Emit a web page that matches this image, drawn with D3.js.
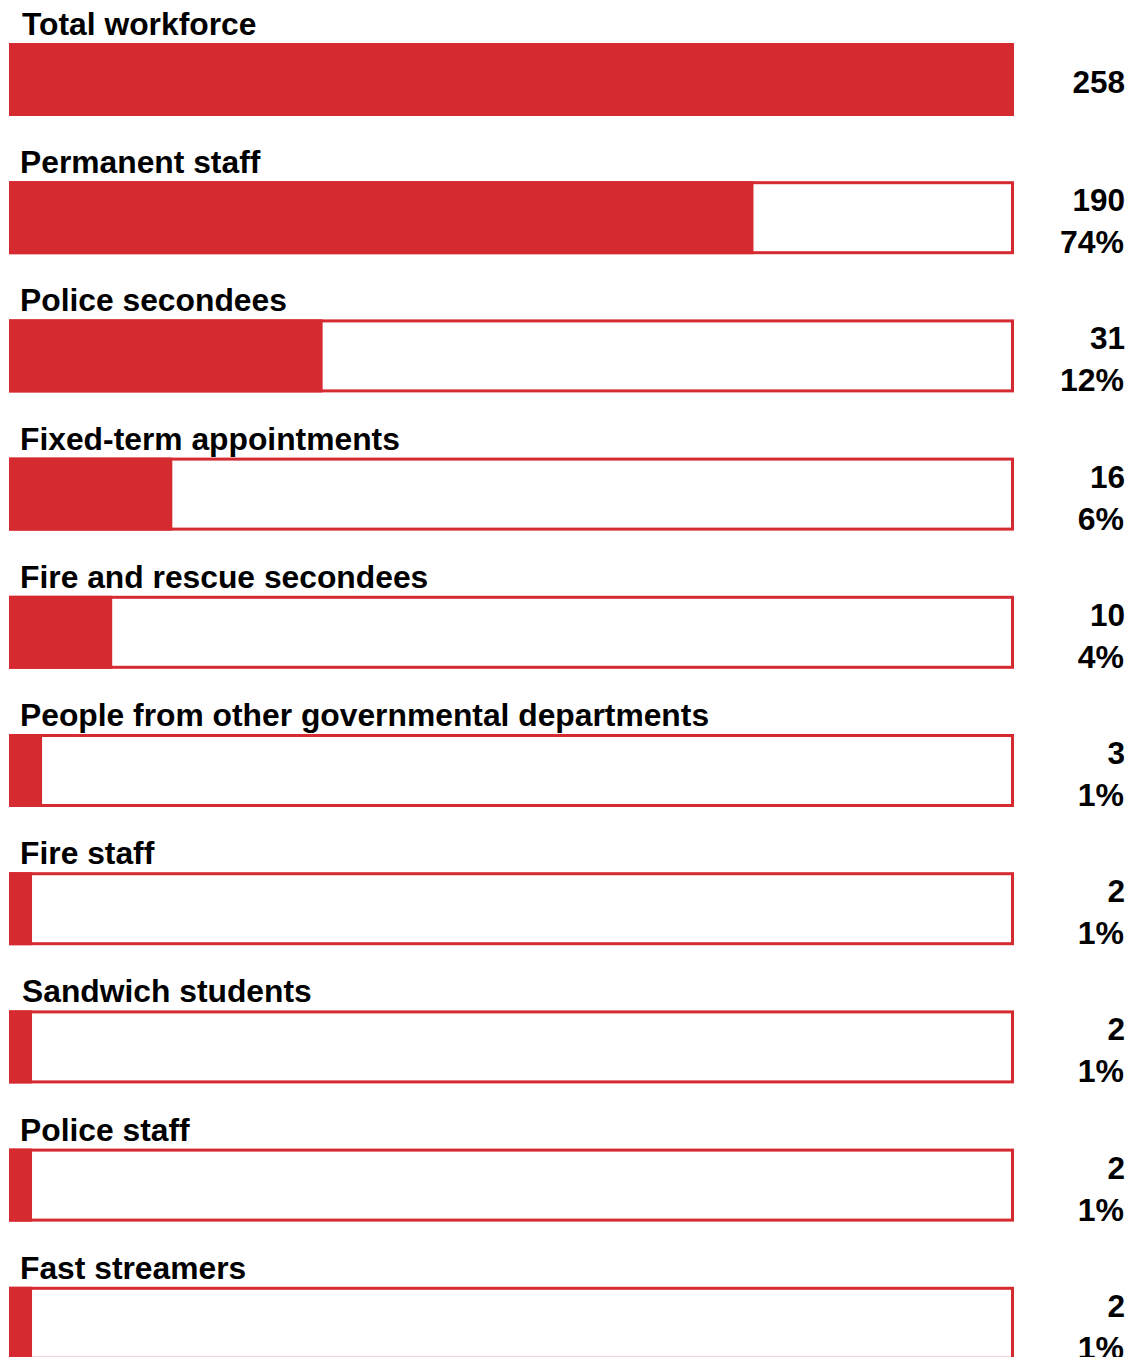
<!DOCTYPE html>
<html>
<head>
<meta charset="utf-8">
<script src="https://cdn.jsdelivr.net/npm/d3@7"></script>
<style>
  html, body { margin: 0; padding: 0; background: #fff; }
  svg { display: block; }
  text { font-family: "Liberation Sans", Arial, sans-serif; font-weight: bold; fill: #000; }
</style>
</head>
<body>
<svg id="chart" width="1136" height="1357"></svg>
<script>
const categories = [
  "Total workforce",
  "Permanent staff",
  "Police secondees",
  "Fixed-term appointments",
  "Fire and rescue secondees",
  "People from other governmental departments",
  "Fire staff",
  "Sandwich students",
  "Police staff",
  "Fast streamers"
];
const counts = [258, 190, 31, 16, 10, 3, 2, 2, 2, 2];
const percents = [null, 74, 12, 6, 4, 1, 1, 1, 1, 1];
// filled length of each bar as drawn in the picture (share of full bar, 0-100)
const barLengths = [100, 74, 31, 16, 10, 3, 2, 2, 2, 2];

const red = "#d62a31";
const svg = d3.select("#chart");

const x = d3.scaleLinear().domain([0, 100]).range([12, 1014]);
const y = d3.scaleBand()
  .domain(d3.range(categories.length))
  .range([43, 43 + 138.2 * categories.length])
  .paddingInner(0);

const barH = 73;
const data = categories.map((c, i) => ({ c, n: counts[i], p: percents[i], len: barLengths[i], i }));

const g = svg.selectAll("g.row").data(data).join("g")
  .attr("class", "row")
  .attr("transform", d => `translate(0,${y(d.i)})`);

// outline
g.append("rect")
  .attr("x", 10.5).attr("y", 1.5)
  .attr("width", x(100) - 12).attr("height", barH - 3)
  .attr("fill", "#fff")
  .attr("stroke", red).attr("stroke-width", 3);

// fill
g.append("rect")
  .attr("x", 9).attr("y", 0)
  .attr("width", d => x(d.len) - 9).attr("height", barH)
  .attr("fill", red);

// label
g.append("text")
  .attr("x", d => (d.i === 0 || d.i === 7) ? 22 : 20)
  .attr("y", -8)
  .attr("font-size", 31.8)
  .text(d => d.c);

// count
g.append("text")
  .attr("x", 1125)
  .attr("y", d => d.p == null ? 50 : 30)
  .attr("text-anchor", "end")
  .attr("font-size", 31.5)
  .text(d => d.n);

// percent
g.filter(d => d.p != null).append("text")
  .attr("x", 1124)
  .attr("y", 72)
  .attr("text-anchor", "end")
  .attr("font-size", 32)
  .text(d => d.p + "%");
</script>
</body>
</html>
